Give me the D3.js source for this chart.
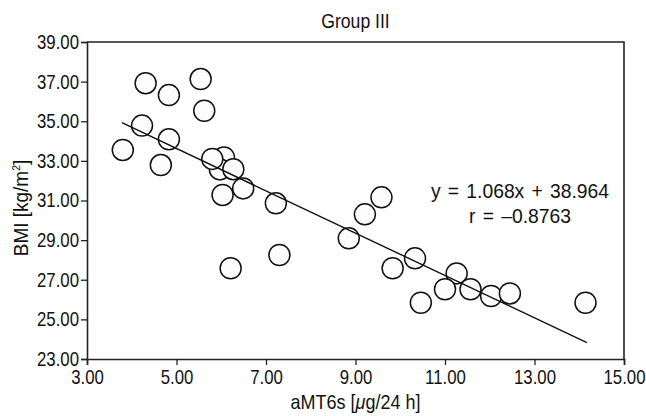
<!DOCTYPE html>
<html>
<head>
<meta charset="utf-8">
<script src="https://cdn.jsdelivr.net/npm/d3@7"></script>
<style>
  body { margin: 0; background: #fff; }
  text { font-family: "Liberation Sans", Arial, sans-serif; fill: #111; }
</style>
</head>
<body>
<div id="chart"></div>
<script>
// aMT6s vs BMI, group III
var amt6s = [3.80, 4.23, 4.31, 4.65, 4.83, 4.83, 5.54, 5.62, 6.06, 5.97, 5.80, 6.27,
             6.49, 6.03, 6.21, 7.22, 7.30, 8.85, 9.21, 9.58, 9.83, 10.33, 10.46,
             11.26, 11.00, 11.57, 12.03, 12.45, 14.14];
var bmi   = [33.55, 34.78, 36.92, 32.79, 36.32, 34.09, 37.13, 35.53, 33.17, 32.57, 33.10, 32.58,
             31.61, 31.28, 27.58, 30.86, 28.25, 29.09, 30.30, 31.16, 27.58, 28.08, 25.84,
             27.32, 26.52, 26.52, 26.18, 26.31, 25.84];

var xTicks = [3, 5, 7, 9, 11, 13, 15];
var yTicks = [23, 25, 27, 29, 31, 33, 35, 37, 39];

// regression line
var slope = -1.068, intercept = 38.964;
var fitRange = [3.78, 14.17];
var fitLabel = ["y = 1.068x + 38.964", "r = \u20130.8763"];

var margin = {top: 42, right: 22, bottom: 57, left: 87},
    width = 646 - margin.left - margin.right,
    height = 416 - margin.top - margin.bottom;

var svg = d3.select("#chart")
  .append("svg")
    .attr("width", 646)
    .attr("height", 416);

var g = svg.append("g")
    .attr("transform", "translate(" + margin.left + "," + margin.top + ")");

var x = d3.scaleLinear().domain([3, 15]).range([0, width]);
var y = d3.scaleLinear().domain([23, 39]).range([height, 0]);

var fmt = d3.format(".2f");

// no narrow font installed, so squeeze the text horizontally
function squeeze(sel, k) {
  sel.each(function() {
    var t = d3.select(this);
    var tx = +t.attr("x") || 0;
    t.attr("x", tx / k);
    var tr = t.attr("transform") || "";
    t.attr("transform", tr + " scale(" + k + ",1)");
  });
}

// frame (top + right)
g.append("path")
    .attr("d", "M0,0H" + width + "V" + height)
    .attr("fill", "none")
    .attr("stroke", "#222")
    .attr("stroke-width", 1.6);

var xAxis = g.append("g")
    .attr("transform", "translate(0," + height + ")")
    .call(d3.axisBottom(x).tickValues(xTicks).tickFormat(fmt).tickSizeOuter(0).tickSize(6).tickPadding(5));

var yAxis = g.append("g")
    .call(d3.axisLeft(y).tickValues(yTicks).tickFormat(fmt).tickSizeOuter(0).tickSize(6).tickPadding(2));

[xAxis, yAxis].forEach(function(a) {
  a.select(".domain").attr("stroke", "#222").attr("stroke-width", 1.6);
  a.selectAll(".tick line").attr("stroke", "#222").attr("stroke-width", 1.3);
  a.selectAll(".tick text").style("font-size", "20px").attr("fill", "#111")
    .style("font-family", "'Liberation Sans', Arial, sans-serif");
  squeeze(a.selectAll(".tick text"), 0.84);
});

// points
g.selectAll("circle")
    .data(amt6s.map(function(d, i) { return [d, bmi[i]]; }))
    .enter()
    .append("circle")
      .attr("cx", function(d) { return x(d[0]); })
      .attr("cy", function(d) { return y(d[1]); })
      .attr("r", 10.5)
      .attr("fill", "#fdfdfd")
      .attr("stroke", "#111")
      .attr("stroke-width", 1.5);

g.append("line")
    .attr("x1", x(fitRange[0]))
    .attr("y1", y(slope * fitRange[0] + intercept))
    .attr("x2", x(fitRange[1]))
    .attr("y2", y(slope * fitRange[1] + intercept))
    .attr("stroke", "#111")
    .attr("stroke-width", 1.4);

var fit = g.selectAll("text.fit")
    .data(fitLabel)
    .enter()
    .append("text")
      .attr("class", "fit")
      .attr("x", 520 - margin.left)
      .attr("y", function(d, i) { return 198 - margin.top + i * 25; })
      .attr("text-anchor", "middle")
      .style("font-size", "21px")
      .style("word-spacing", "2px")
      .text(function(d) { return d; });
squeeze(fit, 0.92);

// title and axis labels
var title = svg.append("text")
    .attr("x", margin.left + width / 2)
    .attr("y", 28)
    .attr("text-anchor", "middle")
    .style("font-size", "20px")
    .text("Group III");
squeeze(title, 0.88);

var xl = svg.append("text")
    .attr("x", margin.left + width / 2)
    .attr("y", 409)
    .attr("text-anchor", "middle")
    .style("font-size", "20px");
xl.append("tspan").text("aMT6s [");
xl.append("tspan").style("font-style", "italic").text("\u03bc");
xl.append("tspan").text("g/24 h]");
squeeze(xl, 0.9);

var yl = svg.append("text")
    .attr("transform", "translate(28,208) rotate(-90)")
    .attr("text-anchor", "middle")
    .style("font-size", "20px");
yl.append("tspan").text("BMI [kg/m");
yl.append("tspan").attr("dy", "-8").style("font-size", "11px").text("2");
yl.append("tspan").attr("dy", "8").text("]");
squeeze(yl, 0.95);
</script>
</body>
</html>
